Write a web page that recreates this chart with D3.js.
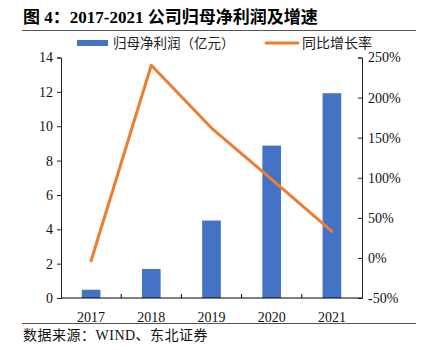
<!DOCTYPE html>
<html>
<head>
<meta charset="utf-8">
<script src="https://cdn.jsdelivr.net/npm/d3@7"></script>
<style>
  body { margin: 0; background: #fff; }
  svg { display: block; }
</style>
</head>
<body>
<div id="chart"></div>
<script>
const years = ["2017", "2018", "2019", "2020", "2021"];
const profit = [0.48, 1.69, 4.51, 8.87, 11.92];   // 归母净利润（亿元）
const growth = [-3.6, 240.4, 162, 98, 33];        // 同比增长率 %
const leftTicks = [0, 2, 4, 6, 8, 10, 12, 14];
const rightTicks = [-50, 0, 50, 100, 150, 200, 250];

const W = 424, H = 350;
const margin = {top: 57.5, right: 62, bottom: 52, left: 61};
const width = W - margin.left - margin.right;
const height = H - margin.top - margin.bottom;

const svg = d3.select("#chart").append("svg")
    .attr("width", W)
    .attr("height", H);

const cjk = "'Noto Sans CJK SC', sans-serif";
const serif = "'Liberation Serif', 'Times New Roman', serif";

// title
svg.append("text")
    .attr("x", 23)
    .attr("y", 23)
    .attr("font-family", serif + ", " + cjk)
    .attr("font-weight", "bold")
    .attr("font-size", "17px")
    .attr("fill", "#000")
    .text("图 4：2017-2021 公司归母净利润及增速");

svg.append("line")
    .attr("x1", 22).attr("x2", 416).attr("y1", 30.5).attr("y2", 30.5)
    .attr("stroke", "#555").attr("stroke-width", 1);

svg.append("line")
    .attr("x1", 22).attr("x2", 416).attr("y1", 323.5).attr("y2", 323.5)
    .attr("stroke", "#555").attr("stroke-width", 1);

svg.append("text")
    .attr("x", 23)
    .attr("y", 340)
    .attr("font-family", serif + ", " + cjk)
    .attr("font-size", "14px")
    .attr("letter-spacing", "0.5px")
    .attr("fill", "#111")
    .text("数据来源：WIND、东北证券");

// legend
const legend = svg.append("g");
legend.append("rect")
    .attr("x", 77).attr("y", 40).attr("width", 31).attr("height", 6)
    .attr("fill", "#4472C4");
legend.append("text")
    .attr("x", 113).attr("y", 48)
    .attr("font-family", cjk).attr("font-size", "13.5px").attr("fill", "#222")
    .text("归母净利润（亿元）");
legend.append("line")
    .attr("x1", 266).attr("x2", 298).attr("y1", 43).attr("y2", 43)
    .attr("stroke", "#ED7D31").attr("stroke-width", 3).attr("stroke-linecap", "round");
legend.append("text")
    .attr("x", 302).attr("y", 48)
    .attr("font-family", cjk).attr("font-size", "14px").attr("fill", "#222")
    .text("同比增长率");

const g = svg.append("g")
    .attr("transform", `translate(${margin.left},${margin.top})`);

const x = d3.scaleBand()
    .domain(years)
    .range([0, width])
    .paddingInner(0.69)
    .paddingOuter(0.345);

const xb = d3.scaleBand().domain(years).range([0, width]);

const yL = d3.scaleLinear().domain([0, 14]).range([height, 0]);
const yR = d3.scaleLinear().domain([-50, 250]).range([height, 0]);

// bars
g.selectAll("rect.bar")
    .data(profit)
    .enter()
    .append("rect")
    .attr("class", "bar")
    .attr("x", (d, i) => x(years[i]))
    .attr("width", x.bandwidth())
    .attr("y", d => yL(d))
    .attr("height", d => height - yL(d))
    .attr("fill", "#4472C4");

// line
const line = d3.line()
    .x((d, i) => xb(years[i]) + xb.bandwidth() / 2)
    .y(d => yR(d));

g.append("path")
    .datum(growth)
    .attr("d", line)
    .attr("fill", "none")
    .attr("stroke", "#ED7D31")
    .attr("stroke-width", 3)
    .attr("stroke-linejoin", "round")
    .attr("stroke-linecap", "round");

// axes
const leftAxis = g.append("g")
    .call(d3.axisLeft(yL).tickValues(leftTicks).tickSize(4).tickSizeOuter(4));
const rightAxis = g.append("g")
    .attr("transform", `translate(${width},0)`)
    .call(d3.axisRight(yR).tickValues(rightTicks).tickSize(-4).tickSizeOuter(-4).tickFormat(d => d + "%"));

rightAxis.selectAll(".tick text").attr("x", 6);
leftAxis.selectAll(".tick text").attr("x", -8);

// bottom axis with boundary ticks
const bottom = g.append("g").attr("transform", `translate(0,${height})`);
bottom.append("line")
    .attr("x1", 0).attr("x2", width)
    .attr("stroke", "#000");
bottom.selectAll("line.tk")
    .data(years.slice(1))
    .enter()
    .append("line")
    .attr("class", "tk")
    .attr("x1", d => xb(d)).attr("x2", d => xb(d))
    .attr("y1", 0).attr("y2", -4)
    .attr("stroke", "#000");
bottom.selectAll("text")
    .data(years)
    .enter()
    .append("text")
    .attr("x", d => xb(d) + xb.bandwidth() / 2)
    .attr("y", 24)
    .attr("text-anchor", "middle")
    .attr("font-family", serif)
    .attr("font-size", "14px")
    .attr("fill", "#111")
    .text(d => d);

[leftAxis, rightAxis].forEach(a => {
    a.selectAll("path, line").attr("stroke", "#222");
    a.selectAll("text")
        .attr("font-family", serif)
        .attr("font-size", "14px")
        .attr("fill", "#111");
});
</script>
</body>
</html>
